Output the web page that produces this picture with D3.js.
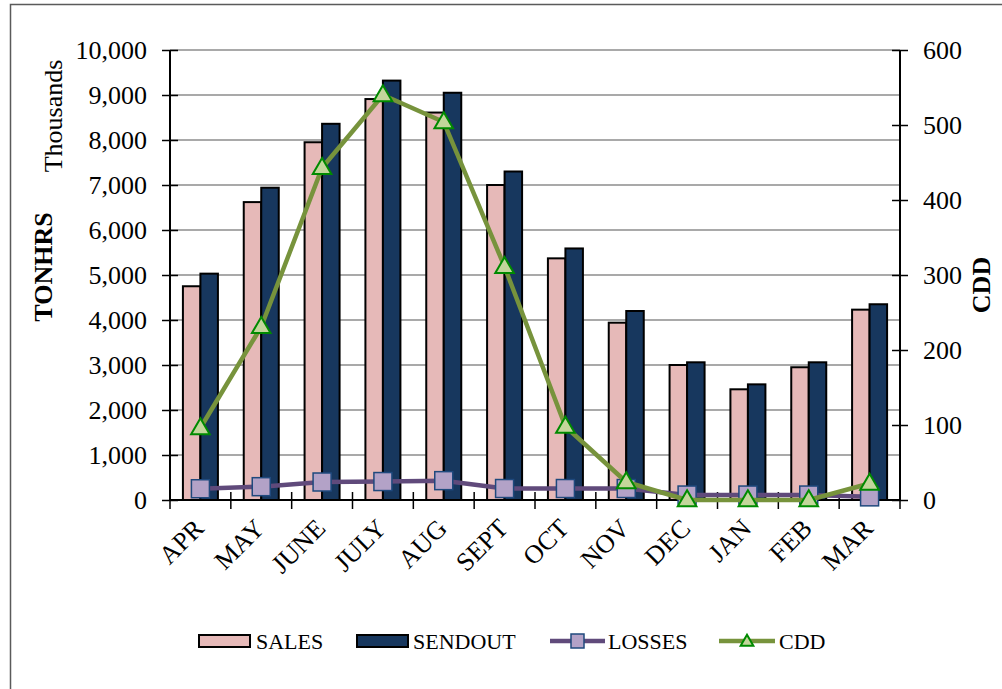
<!DOCTYPE html>
<html><head><meta charset="utf-8">
<script src="https://cdn.jsdelivr.net/npm/d3@7"></script>
<style>
body{margin:0;background:#fff;}
svg{display:block;}
svg text{font-family:"Liberation Serif","Times New Roman",serif;}
</style></head>
<body><svg id="c" width="1002" height="689"></svg>
<script>
const months = ["APR","MAY","JUNE","JULY","AUG","SEPT","OCT","NOV","DEC","JAN","FEB","MAR"];
const sales = [4750, 6620, 7950, 8910, 8610, 7000, 5370, 3940, 3000, 2460, 2950, 4230];
const sendout = [5030, 6940, 8360, 9320, 9050, 7300, 5590, 4200, 3060, 2570, 3060, 4350];
const losses = [250, 296, 400, 410, 430, 255, 255, 255, 110, 110, 110, 70];
const cdd = [96, 231, 443, 540, 504, 311, 98, 24, 0, 0, 0, 22];
const leftTicks = [0,1000,2000,3000,4000,5000,6000,7000,8000,9000,10000];
const rightTicks = [0,100,200,300,400,500,600];
const seriesNames = ["SALES","SENDOUT","LOSSES","CDD"];

const FONT = "Liberation Serif";
const svg = d3.select("#c");
const L = 170, R = 900, T = 50, B = 500;

svg.append("rect").attr("x",10.5).attr("y",4.5).attr("width",1010).attr("height",720)
  .attr("fill","#fff").attr("stroke","#5a5a5a").attr("stroke-width",1.5);

const x0 = d3.scaleBand().domain(months).range([L,R]).padding(0);
const step = x0.step();
const barW = 17.5;
const x1 = d3.scaleBand().domain(["SALES","SENDOUT"]).range([step/2 - barW, step/2 + barW]).padding(0);
const y = d3.scaleLinear().domain([0,10000]).range([B,T]);
const y2 = d3.scaleLinear().domain([0,600]).range([B,T]);
const cx = m => x0(m) + step/2;

// gridlines
svg.append("g").selectAll("line").data(leftTicks.filter(d=>d>0)).join("line")
  .attr("x1",L).attr("x2",R).attr("y1",d=>y(d)).attr("y2",d=>y(d))
  .attr("stroke","#8c8c8c").attr("stroke-width",1.6);

// bars
const colors = {SALES:"#E6B9B8", SENDOUT:"#17375E"};
const barData = [];
months.forEach((m,i)=>{ barData.push({m,s:"SALES",v:sales[i]}); barData.push({m,s:"SENDOUT",v:sendout[i]}); });
svg.append("g").selectAll("rect").data(barData).join("rect")
  .attr("x",d=>x0(d.m)+x1(d.s)).attr("width",x1.bandwidth())
  .attr("y",d=>y(d.v)).attr("height",d=>B-y(d.v))
  .attr("fill",d=>colors[d.s]).attr("stroke","#000").attr("stroke-width",2);

// axes
const gl = svg.append("g").attr("transform",`translate(${L},0)`)
  .call(d3.axisLeft(y).tickValues(leftTicks).tickSize(8).tickPadding(15).tickFormat(d3.format(",")));
gl.attr("font-family",FONT);
gl.selectAll(".tick line").attr("x1",8).attr("stroke","#000").attr("stroke-width",1.5);
gl.select(".domain").attr("stroke","#000").attr("stroke-width",2).attr("d",`M0,${T}V${B}`);
gl.selectAll("text").attr("font-size",26).attr("fill","#000");

const gr = svg.append("g").attr("transform",`translate(${R},0)`)
  .call(d3.axisRight(y2).tickValues(rightTicks).tickSize(8).tickPadding(15));
gr.attr("font-family",FONT);
gr.selectAll(".tick line").attr("x1",-8).attr("stroke","#000").attr("stroke-width",1.5);
gr.select(".domain").attr("stroke","#000").attr("stroke-width",2).attr("d",`M0,${T}V${B}`);
gr.selectAll("text").attr("font-size",26).attr("fill","#000");

const gb = svg.append("g").attr("transform",`translate(0,${B})`)
  .call(d3.axisBottom(x0).tickSize(0).tickFormat(""));
gb.select(".domain").attr("stroke","#000").attr("stroke-width",2).attr("d",`M${L},0H${R}`);
svg.append("g").selectAll("line").data(d3.range(months.length+1)).join("line")
  .attr("x1",i=>L+i*step).attr("x2",i=>L+i*step).attr("y1",B-8).attr("y2",B+9)
  .attr("stroke","#000").attr("stroke-width",1.5);
svg.append("g").attr("font-family",FONT).selectAll("text").data(months).join("text")
  .attr("transform",m=>`translate(${cx(m)-8},${B+17}) rotate(-45)`)
  .attr("text-anchor","end").attr("dy","0.7em").attr("font-size",26).attr("fill","#000").text(m=>m);

// lines
const lossLine = d3.line().x((d,i)=>cx(months[i])).y(d=>y(d));
svg.append("path").datum(losses).attr("d",lossLine).attr("fill","none")
  .attr("stroke","#604A7B").attr("stroke-width",4.5).attr("stroke-linejoin","round");
svg.append("g").selectAll("rect").data(losses).join("rect")
  .attr("x",(d,i)=>cx(months[i])-9).attr("y",d=>y(d)-9).attr("width",18).attr("height",18)
  .attr("fill","#B3A2C7").attr("stroke","#1F497D").attr("stroke-width",1.5);

const cddLine = d3.line().x((d,i)=>cx(months[i])).y(d=>y2(d));
svg.append("path").datum(cdd).attr("d",cddLine).attr("fill","none")
  .attr("stroke","#77933C").attr("stroke-width",4.5).attr("stroke-linejoin","round");
const tri = d3.symbol().type(d3.symbolTriangle).size(150);
svg.append("g").selectAll("path").data(cdd).join("path")
  .attr("transform",(d,i)=>`translate(${cx(months[i])},${y2(d)+1})`).attr("d",tri)
  .attr("fill","#C3D69B").attr("stroke","#008A00").attr("stroke-width",2);

// axis titles
const tg = svg.append("g").attr("font-family",FONT).attr("fill","#000");
tg.append("text").attr("transform","translate(62,116) rotate(-90)").attr("text-anchor","middle")
  .attr("font-size",26).text("Thousands");
tg.append("text").attr("transform","translate(52,267) rotate(-90)").attr("text-anchor","middle")
  .attr("font-size",26).attr("font-weight","bold").text("TONHRS");
tg.append("text").attr("transform","translate(990,285) rotate(-90)").attr("text-anchor","middle")
  .attr("font-size",26).attr("font-weight","bold").text("CDD");

// legend
const lg = svg.append("g").attr("font-family",FONT).attr("fill","#000");
const ly = 641;
lg.append("rect").attr("x",199).attr("y",ly-6).attr("width",51).attr("height",12)
  .attr("fill",colors.SALES).attr("stroke","#000").attr("stroke-width",2);
lg.append("text").attr("x",256).attr("y",ly).attr("dy","0.35em").attr("font-size",22).text(seriesNames[0]);
lg.append("rect").attr("x",357).attr("y",ly-6).attr("width",51).attr("height",12)
  .attr("fill",colors.SENDOUT).attr("stroke","#000").attr("stroke-width",2);
lg.append("text").attr("x",413).attr("y",ly).attr("dy","0.35em").attr("font-size",22).text(seriesNames[1]);
lg.append("line").attr("x1",550).attr("x2",605).attr("y1",ly).attr("y2",ly)
  .attr("stroke","#604A7B").attr("stroke-width",4.5);
lg.append("rect").attr("x",571).attr("y",ly-7).attr("width",13).attr("height",14)
  .attr("fill","#B3A2C7").attr("stroke","#1F497D").attr("stroke-width",1.5);
lg.append("text").attr("x",608).attr("y",ly).attr("dy","0.35em").attr("font-size",22).text(seriesNames[2]);
lg.append("line").attr("x1",719).attr("x2",775).attr("y1",ly).attr("y2",ly)
  .attr("stroke","#77933C").attr("stroke-width",4.5);
lg.append("path").attr("transform",`translate(747,${ly+1})`).attr("d",d3.symbol().type(d3.symbolTriangle).size(70)())
  .attr("fill","#C3D69B").attr("stroke","#008A00").attr("stroke-width",2);
lg.append("text").attr("x",779).attr("y",ly).attr("dy","0.35em").attr("font-size",22).text(seriesNames[3]);
</script></body></html>
